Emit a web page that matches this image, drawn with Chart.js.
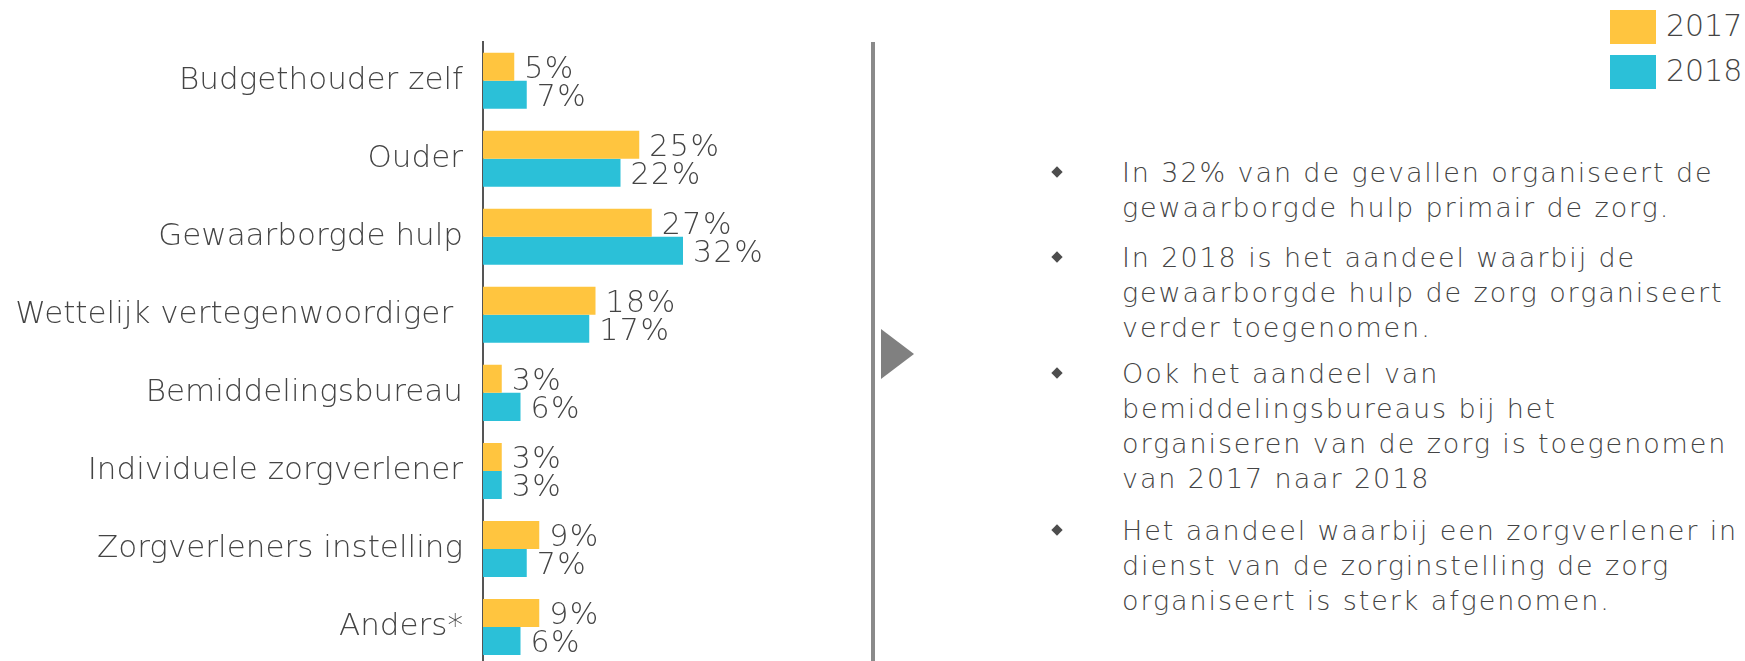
<!DOCTYPE html>
<html>
<head>
<meta charset="utf-8">
<script src="https://cdn.jsdelivr.net/npm/chart.js@4"></script>
<style>
  html, body { margin: 0; padding: 0; background: #fff; overflow: hidden; }
  body { width: 1745px; height: 661px; position: relative; font-family: 'DejaVu Sans', sans-serif; font-weight: 200; color: #444; }
  #wrap { position: absolute; left: 0; top: 0; width: 880px; height: 666px; }
  .sep { position: absolute; left: 871px; top: 42px; width: 4px; height: 619px; background: #8a8a8a; }
  .arrow { position: absolute; left: 881px; top: 329px; width: 0; height: 0;
           border-top: 25px solid transparent; border-bottom: 25px solid transparent; border-left: 33px solid #808080; }
  .lg-box { position: absolute; left: 1610px; width: 46px; height: 34px; }
  .lg-txt { position: absolute; left: 1666px; font-size: 30px; line-height: 34px; }
  .item { position: absolute; left: 1122px; font-size: 27px; line-height: 35px; letter-spacing: 1.9px; white-space: nowrap; }
  .dot { position: absolute; left: 1053px; width: 8px; height: 8px; background: #4d4d4d; transform: rotate(45deg); }
</style>
</head>
<body>
<div id="wrap"><canvas id="chart" width="880" height="666"></canvas></div>
<div class="sep"></div>
<div class="arrow"></div>
<div id="legend"></div>
<div id="notes"></div>
<script>
const categorieen = ['Budgethouder zelf', 'Ouder', 'Gewaarborgde hulp', 'Wettelijk vertegenwoordiger ',
  'Bemiddelingsbureau', 'Individuele zorgverlener', 'Zorgverleners instelling', 'Anders*'];
const jaren = ['2017', '2018'];
const waarden2017 = [5, 25, 27, 18, 3, 3, 9, 9];
const waarden2018 = [7, 22, 32, 17, 6, 3, 7, 6];
const kleuren = ['#ffc53f', '#2bc0d8'];

const punten = [
  'In 32% van de gevallen organiseert de<br>gewaarborgde hulp primair de zorg.',
  'In 2018 is het aandeel waarbij de<br>gewaarborgde hulp de zorg organiseert<br>verder toegenomen.',
  'Ook het aandeel van<br>bemiddelingsbureaus bij het<br>organiseren van de zorg is toegenomen<br>van 2017 naar 2018',
  'Het aandeel waarbij een zorgverlener in<br>dienst van de zorginstelling de zorg<br>organiseert is sterk afgenomen.'
];
const puntBaseline = [182, 267, 383, 540];

// legenda
const legend = document.getElementById('legend');
jaren.forEach((j, i) => {
  const box = document.createElement('div');
  box.className = 'lg-box';
  box.style.top = (10 + i * 45) + 'px';
  box.style.background = kleuren[i];
  legend.appendChild(box);
  const t = document.createElement('div');
  t.className = 'lg-txt';
  t.style.top = (36 + i * 45 - 27.4) + 'px';
  t.textContent = j;
  legend.appendChild(t);
});

// tekst rechts
const notes = document.getElementById('notes');
punten.forEach((p, i) => {
  const d = document.createElement('div');
  d.className = 'item';
  d.style.top = (puntBaseline[i] - 26.9) + 'px';
  d.innerHTML = p;
  notes.appendChild(d);
  const dot = document.createElement('div');
  dot.className = 'dot';
  dot.style.top = (puntBaseline[i] - 10 - 4) + 'px';
  notes.appendChild(dot);
});

const labelPlugin = {
  id: 'waardeLabels',
  afterDatasetsDraw(chart) {
    const ctx = chart.ctx;
    ctx.save();
    ctx.font = '200 30px "DejaVu Sans"';
    ctx.letterSpacing = '1.5px';
    ctx.fillStyle = '#444';
    ctx.textAlign = 'left';
    ctx.textBaseline = 'alphabetic';
    chart.data.datasets.forEach((ds, i) => {
      chart.getDatasetMeta(i).data.forEach((bar, j) => {
        ctx.fillText(ds.data[j] + '%', bar.x + 10, bar.y + 11);
      });
    });
    ctx.restore();
  }
};

const config = {
  type: 'bar',
  data: {
    labels: categorieen,
    datasets: [
      { label: jaren[0], data: waarden2017, backgroundColor: kleuren[0] },
      { label: jaren[1], data: waarden2018, backgroundColor: kleuren[1] }
    ]
  },
  options: {
    indexAxis: 'y',
    responsive: false,
    animation: false,
    layout: { padding: { top: 41.7, right: 84.5, bottom: 0, left: 0 } },
    datasets: { bar: { categoryPercentage: 0.718, barPercentage: 1.0 } },
    scales: {
      x: { display: false, min: 0, max: 50 },
      y: {
        afterFit(scale) {
          scale.width = 483;
          scale.paddingTop = 0;
          scale.paddingBottom = 0;
        },
        grid: { display: false, drawTicks: false },
        border: { display: true, color: '#555', width: 2 },
        ticks: { color: '#444', padding: 20, font: { family: 'DejaVu Sans', weight: 200, size: 31 } }
      }
    },
    plugins: {
      legend: { display: false },
      tooltip: { enabled: false }
    }
  },
  plugins: [labelPlugin]
};

window.onload = function() {
  const ctx = document.getElementById('chart').getContext('2d');
  new Chart(ctx, config);
};
</script>
</body>
</html>
